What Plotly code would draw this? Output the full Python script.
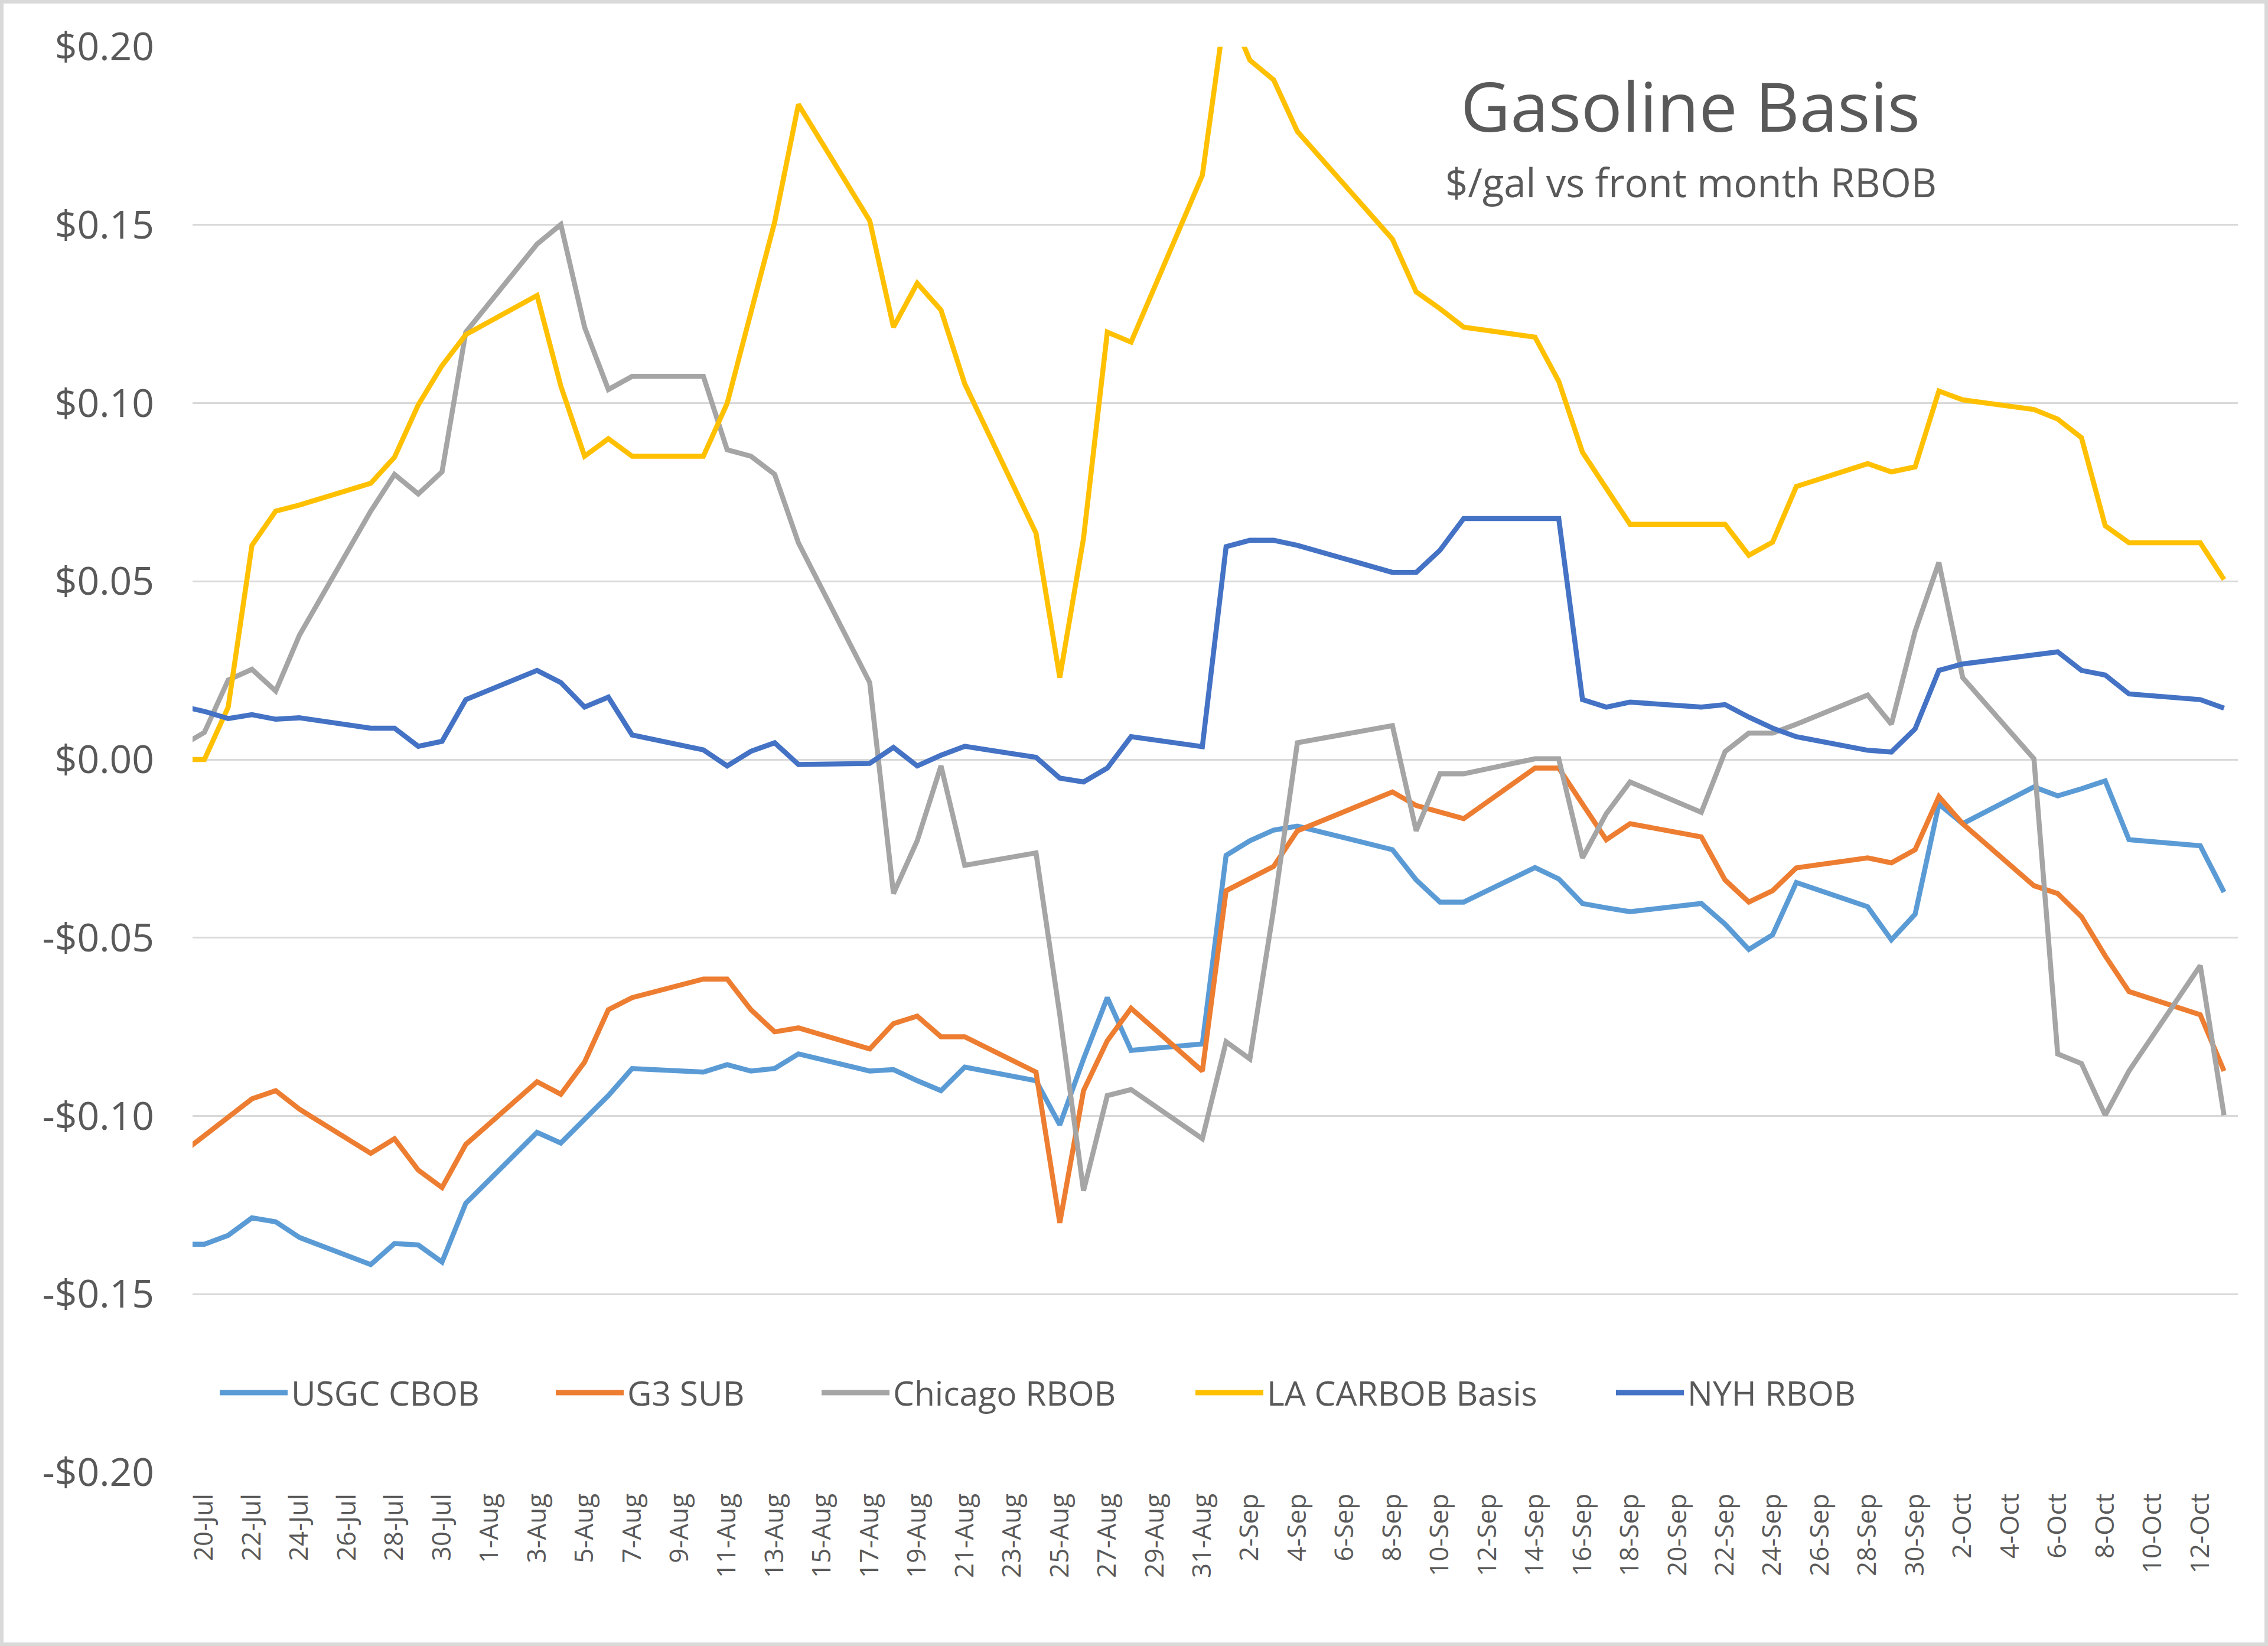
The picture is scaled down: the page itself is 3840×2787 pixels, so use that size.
import plotly.graph_objects as go

# Trading days (first point sits just left of the visible range and is clipped)
dates = [
    "2020-07-17",
    "2020-07-20", "2020-07-21", "2020-07-22", "2020-07-23", "2020-07-24",
    "2020-07-27", "2020-07-28", "2020-07-29", "2020-07-30", "2020-07-31",
    "2020-08-03", "2020-08-04", "2020-08-05", "2020-08-06", "2020-08-07",
    "2020-08-10", "2020-08-11", "2020-08-12", "2020-08-13", "2020-08-14",
    "2020-08-17", "2020-08-18", "2020-08-19", "2020-08-20", "2020-08-21",
    "2020-08-24", "2020-08-25", "2020-08-26", "2020-08-27", "2020-08-28",
    "2020-08-31", "2020-09-01", "2020-09-02", "2020-09-03", "2020-09-04",
    "2020-09-08", "2020-09-09", "2020-09-10", "2020-09-11",
    "2020-09-14", "2020-09-15", "2020-09-16", "2020-09-17", "2020-09-18",
    "2020-09-21", "2020-09-22", "2020-09-23", "2020-09-24", "2020-09-25",
    "2020-09-28", "2020-09-29", "2020-09-30", "2020-10-01", "2020-10-02",
    "2020-10-05", "2020-10-06", "2020-10-07", "2020-10-08", "2020-10-09",
    "2020-10-12", "2020-10-13",
]

usgc_cbob = [
    -0.136,
    -0.136, -0.1335, -0.1286, -0.1297, -0.1341,
    -0.1417, -0.1358, -0.1362, -0.1410, -0.1245,
    -0.1046, -0.1076, -0.1011, -0.0943, -0.0867,
    -0.0877, -0.0856, -0.0874, -0.0867, -0.0826,
    -0.0874, -0.0870, -0.0901, -0.0929, -0.0863,
    -0.0901, -0.1025, -0.0840, -0.0668, -0.0816,
    -0.0798, -0.0269, -0.0228, -0.0198, -0.0187,
    -0.0253, -0.0338, -0.0400, -0.0400,
    -0.0303, -0.0335, -0.0404, -0.0416, -0.0427,
    -0.0404, -0.0462, -0.0533, -0.0492, -0.0345,
    -0.0413, -0.0506, -0.0434, -0.0125, -0.0180,
    -0.0077, -0.0102, -0.0082, -0.0060, -0.0225,
    -0.0242, -0.0372,
]

g3_sub = [
    -0.121,
    -0.1054, -0.1002, -0.0952, -0.0929, -0.0981,
    -0.1105, -0.1064, -0.1152, -0.1201, -0.1080,
    -0.0904, -0.0939, -0.0849, -0.0702, -0.0668,
    -0.0616, -0.0616, -0.0702, -0.0764, -0.0753,
    -0.0812, -0.0741, -0.0720, -0.0778, -0.0778,
    -0.0877, -0.1300, -0.0929, -0.0789, -0.0698,
    -0.0874, -0.0368, -0.0335, -0.0300, -0.0200,
    -0.0091, -0.0129, -0.0148, -0.0166,
    -0.0024, -0.0024, -0.0125, -0.0225, -0.0180,
    -0.0217, -0.0338, -0.0400, -0.0368, -0.0304,
    -0.0276, -0.0290, -0.0253, -0.0104, -0.0180,
    -0.0354, -0.0376, -0.0441, -0.0551, -0.0651,
    -0.0716, -0.0874,
]

chicago_rbob = [
    -0.004,
    0.0076, 0.0223, 0.0253, 0.0192, 0.0349,
    0.0697, 0.0800, 0.0745, 0.0807, 0.1199,
    0.1446, 0.1501, 0.1213, 0.1038, 0.1075,
    0.1075, 0.0869, 0.0851, 0.0800, 0.0608,
    0.0216, -0.0376, -0.0228, -0.0018, -0.0297,
    -0.0262, -0.0716, -0.1210, -0.0943, -0.0926,
    -0.1064, -0.0792, -0.0840, -0.0420, 0.0047,
    0.0095, -0.0200, -0.0040, -0.0040,
    0.0002, 0.0002, -0.0276, -0.0152, -0.0063,
    -0.0148, 0.0022, 0.0074, 0.0074, 0.0099,
    0.0181, 0.0099, 0.0360, 0.0553, 0.0230,
    0.0002, -0.0826, -0.0853, -0.0998, -0.0874,
    -0.0578, -0.0998,
]

la_carbob = [
    0.0,
    0.0, 0.0147, 0.0601, 0.0697, 0.0714,
    0.0775, 0.0848, 0.0995, 0.1105, 0.1192,
    0.1302, 0.1048, 0.0851, 0.0900, 0.0851,
    0.0851, 0.0999, 0.1254, 0.1508, 0.1838,
    0.1512, 0.1213, 0.1336, 0.1261, 0.1054,
    0.0635, 0.0230, 0.0621, 0.1199, 0.1171,
    0.1639, 0.2120, 0.1962, 0.1907, 0.1762,
    0.1460, 0.1312, 0.1265, 0.1213,
    0.1185, 0.1061, 0.0862, 0.0759, 0.0660,
    0.0660, 0.0660, 0.0573, 0.0610, 0.0766,
    0.0830, 0.0807, 0.0821, 0.1034, 0.1009,
    0.0982, 0.0955, 0.0903, 0.0656, 0.0608,
    0.0608, 0.0505,
]

nyh_rbob = [
    0.018,
    0.0135, 0.0115, 0.0126, 0.0113, 0.0117,
    0.0088, 0.0088, 0.0037, 0.0051, 0.0168,
    0.0250, 0.0216, 0.0147, 0.0175, 0.0069,
    0.0027, -0.0018, 0.0023, 0.0047, -0.0014,
    -0.0011, 0.0034, -0.0018, 0.0012, 0.0037,
    0.0006, -0.0052, -0.0063, -0.0024, 0.0064,
    0.0036, 0.0597, 0.0615, 0.0615, 0.0601,
    0.0525, 0.0525, 0.0587, 0.0676,
    0.0676, 0.0676, 0.0168, 0.0147, 0.0161,
    0.0147, 0.0154, 0.0119, 0.0088, 0.0064,
    0.0026, 0.0021, 0.0086, 0.0250, 0.0268,
    0.0296, 0.0302, 0.0250, 0.0237, 0.0184,
    0.0168, 0.0144,
]

series_names = ["USGC CBOB", "G3 SUB", "Chicago RBOB", "LA CARBOB Basis", "NYH RBOB"]
series_values = [usgc_cbob, g3_sub, chicago_rbob, la_carbob, nyh_rbob]
series_colors = ["#5B9BD5", "#ED7D31", "#A5A5A5", "#FFC000", "#4472C4"]

y_tick_vals = [0.20, 0.15, 0.10, 0.05, 0.0, -0.05, -0.10, -0.15, -0.20]
y_tick_text = ["$0.20", "$0.15", "$0.10", "$0.05", "$0.00",
               "-$0.05", "-$0.10", "-$0.15", "-$0.20"]

# page / plot-area geometry in pixels
W, H = 3840, 2787
PL, PR, PT, PB = 326, 3789, 79, 2493
TEXT = "#595959"
FONT = "Open Sans"


def fx(x):
    return (x - PL) / (PR - PL)


def fy(y):
    return (PB - y) / (PB - PT)


fig = go.Figure()
for name, vals, color in zip(series_names, series_values, series_colors):
    fig.add_trace(go.Scatter(
        x=dates, y=vals, name=name, mode="lines",
        line=dict(color=color, width=8.5),
        showlegend=False,
    ))

# hand-made legend, Excel style (long line samples)
legend_x = [372, 941, 1391, 2024, 2736]
legend_y = 2358
shapes = []
annotations = []
for x0, name, color in zip(legend_x, series_names, series_colors):
    shapes.append(dict(type="line", xref="paper", yref="paper",
                       x0=fx(x0), x1=fx(x0 + 115), y0=fy(legend_y), y1=fy(legend_y),
                       line=dict(color=color, width=9)))
    annotations.append(dict(text=name, xref="paper", yref="paper",
                            x=fx(x0 + 119), y=fy(legend_y), xanchor="left", yanchor="middle",
                            showarrow=False, font=dict(family=FONT, size=57, color=TEXT)))

# chart area border
shapes.append(dict(type="rect", xref="paper", yref="paper",
                   x0=fx(0), x1=fx(W), y0=fy(H), y1=fy(0),
                   line=dict(color="#D9D9D9", width=12), layer="above"))

annotations.append(dict(text="Gasoline Basis", xref="paper", yref="paper",
                        x=fx(2862), y=fy(178), xanchor="center", yanchor="middle",
                        showarrow=False, font=dict(family=FONT, size=116, color=TEXT)))
annotations.append(dict(text="$/gal vs front month RBOB", xref="paper", yref="paper",
                        x=fx(2863), y=fy(308), xanchor="center", yanchor="middle",
                        showarrow=False, font=dict(family=FONT, size=67, color=TEXT)))

fig.update_layout(
    width=W, height=H,
    margin=dict(l=PL, r=W - PR, t=PT, b=H - PB),
    paper_bgcolor="white", plot_bgcolor="white",
    font=dict(family=FONT, color=TEXT),
    shapes=shapes, annotations=annotations,
)
fig.update_xaxes(
    type="date",
    range=["2020-07-19 12:00", "2020-10-13 14:00"],
    tick0="2020-07-20", dtick=2 * 86400000,
    tickformat="%-d-%b", tickangle=-90,
    tickfont=dict(family=FONT, size=44, color=TEXT),
    showgrid=False, zeroline=False, showline=False, ticks="",
    ticklabelstandoff=26,
)
fig.update_yaxes(
    range=[-0.2, 0.2],
    tickvals=y_tick_vals, ticktext=y_tick_text,
    tickfont=dict(family=FONT, size=66, color=TEXT),
    showgrid=True, gridcolor="#D9D9D9", gridwidth=3,
    zeroline=False, showline=False, ticks="",
    ticklabelstandoff=64,
)

# drop the default page margin so the figure fills the window exactly
fig.write_html("out.html", config={"displayModeBar": False},
               post_script="document.body.style.margin='0px';")
